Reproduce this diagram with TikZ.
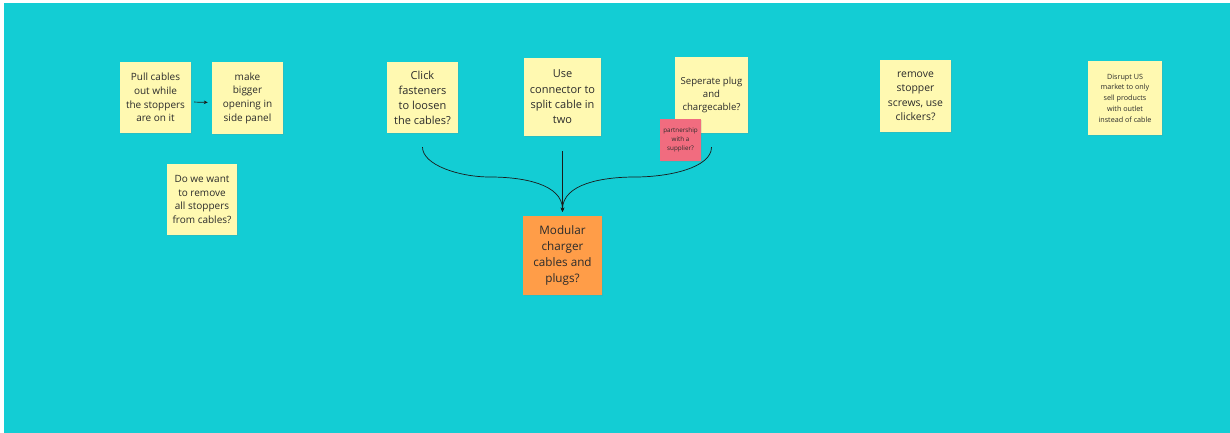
\documentclass[tikz,border=0pt]{standalone}
\usepackage{fontspec}
\setmainfont{Open Sans}
\usetikzlibrary{arrows.meta,shadows}
\definecolor{board}{HTML}{13CDD4}
\definecolor{sticky}{HTML}{FFF9B1}
\definecolor{pinknote}{HTML}{F16C7F}
\definecolor{orangenote}{HTML}{FF9D48}
\definecolor{ink}{HTML}{2B2B2B}
\definecolor{wire}{HTML}{1A1A1A}

\tikzset{
  note/.style={fill=sticky, text=ink, align=center, inner sep=0pt,
    drop shadow={shadow xshift=0.6pt, shadow yshift=-0.8pt, opacity=0.18}},
  notesize/.style 2 args={minimum width=#1, minimum height=#2},
  link/.style={-{Stealth[length=4pt,width=3.5pt]}, draw=wire, line width=0.7pt},
}

\begin{document}
\begin{tikzpicture}[x=1pt, y=-1pt]
  % Board
  \useasboundingbox (0,0) rectangle (1230,433);
  \fill[board] (4,3) rectangle (1230,433);

  % Stoppers group
  \node[note, notesize={71pt}{71pt}, font=\fontsize{10}{13.7}\selectfont] (pull) at (155.5,97.5)
    {Pull cables\\out while\\the stoppers\\are on it};
  \node[note, notesize={71pt}{72pt}, font=\fontsize{10}{13.7}\selectfont] (bigger) at (247.5,98)
    {make\\bigger\\opening in\\side panel};
  \node[note, notesize={70pt}{71pt}, font=\fontsize{10}{13.7}\selectfont] (removeall) at (202,199.5)
    {Do we want\\to remove\\all stoppers\\from cables?};

  % Ideas feeding the modular charger
  \node[note, notesize={71pt}{71pt}, font=\fontsize{11}{15}\selectfont] (click) at (422.5,97.5)
    {Click\\fasteners\\to loosen\\the cables?};
  \node[note, notesize={77pt}{78pt}, font=\fontsize{11}{15.3}\selectfont] (connector) at (562.5,97)
    {Use\\connector to\\split cable in\\two};
  \node[note, notesize={73pt}{76pt}, font=\fontsize{9.6}{13.3}\selectfont] (seperate) at (711.5,95)
    {Seperate plug\\and\\chargecable?};
  \node[note, fill=pinknote, notesize={41pt}{42pt}, font=\fontsize{6.3}{8.8}\selectfont] (partner) at (680.5,140)
    {partnership\\with a\\supplier?};
  \node[note, fill=orangenote, notesize={79pt}{79pt}, font=\fontsize{11.7}{15.7}\selectfont] (modular) at (562.5,255.5)
    {Modular\\charger\\cables and\\plugs?};

  % Other ideas
  \node[note, notesize={71pt}{72pt}, font=\fontsize{10.4}{14.5}\selectfont] (screws) at (915.5,96)
    {remove\\stopper\\screws, use\\clickers?};
  \node[note, notesize={74pt}{74pt}, font=\fontsize{7.2}{10.8}\selectfont] (disrupt) at (1125,98)
    {Disrupt US\\market to only\\sell products\\with outlet\\instead of cable};

  % Connectors
  \coordinate (leftbend) at (490,177);
  \coordinate (rightbend) at (635,177);
  \draw[link, shorten <=3pt, shorten >=4pt] ([yshift=-4.5pt]pull.east) -- ([yshift=-4.5pt]bigger.west);
  \draw[link, shorten <=14pt, shorten >=4pt] (click.south) to[out=-90, in=180] (leftbend)
    to[out=0, in=90] (modular.north);
  \draw[link, shorten <=15pt, shorten >=4pt] (connector.south) -- (modular.north);
  \draw[link, shorten <=14pt, shorten >=4pt] (seperate.south) to[out=-90, in=0] (rightbend)
    to[out=180, in=90] (modular.north);
\end{tikzpicture}
\end{document}
